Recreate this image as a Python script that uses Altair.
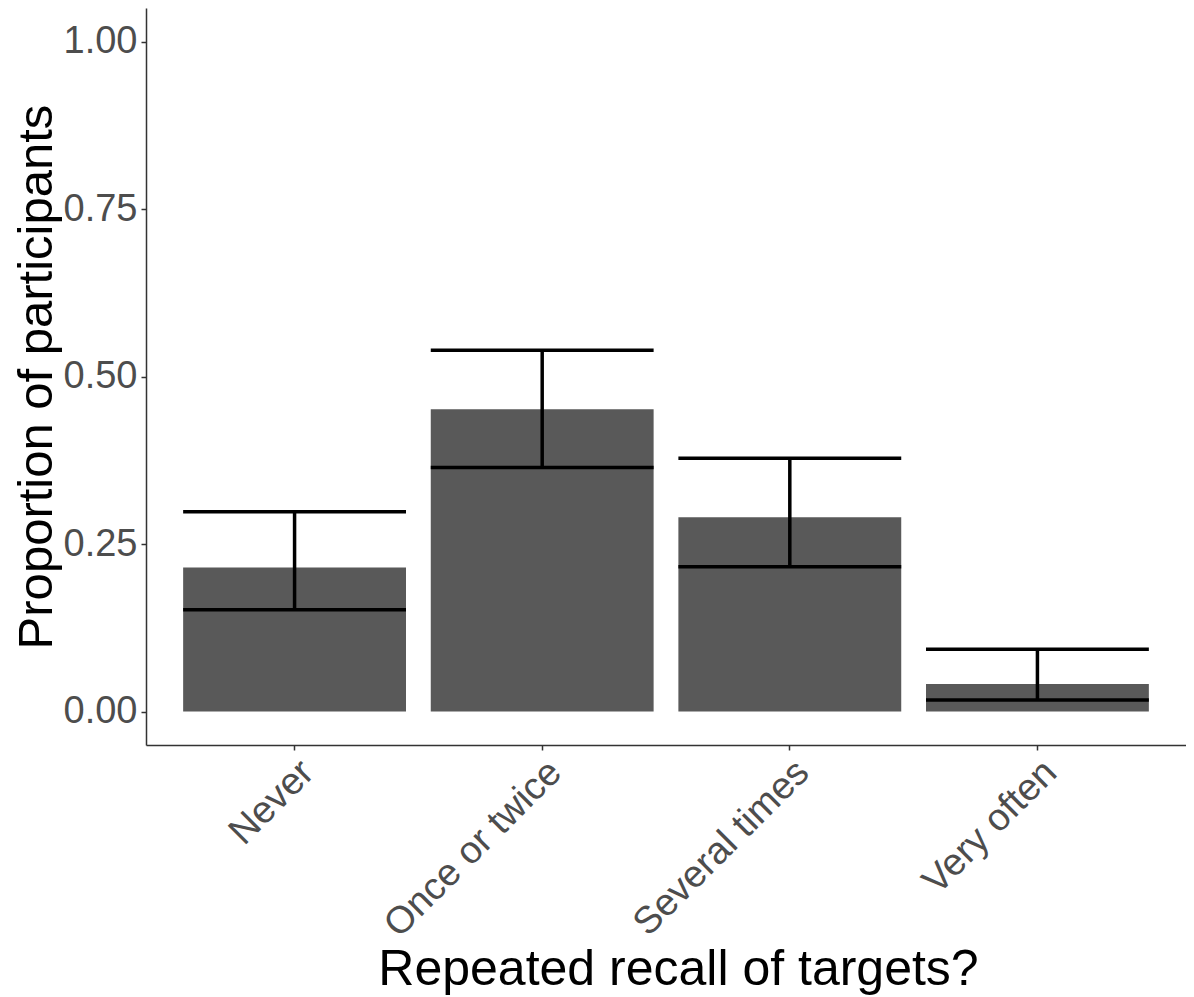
import altair as alt
import pandas as pd

categories = ["Never", "Once or twice", "Several times", "Very often"]
proportions = [0.215, 0.451, 0.290, 0.041]
lower = [0.152, 0.364, 0.216, 0.017]
upper = [0.298, 0.539, 0.378, 0.093]

df = pd.DataFrame({"cat": categories, "p": proportions, "lo": lower, "hi": upper})

FONT = "Liberation Sans"
W = 1040
H = 737
BAR_PX = W / 4.2 * 0.9

xenc = alt.X(
    "cat:N",
    sort=categories,
    title="Repeated recall of targets?",
    scale=alt.Scale(paddingInner=0.1, paddingOuter=0.15),
    axis=alt.Axis(
        labelAngle=-45, labelAlign="right", labelBaseline="top", labelLimit=0,
        labelFontSize=38, labelColor="#4D4D4D", labelFont=FONT,
        titleFontSize=50, titleColor="black", titleFont=FONT, titleFontWeight="normal",
        titleX=W / 2 + 12,
        domainColor="#333333", domainWidth=1.5, tickColor="#333333", tickWidth=1.5,
        tickSize=5, labelPadding=3, titlePadding=0,
    ),
)
yscale = alt.Scale(domain=[-0.05, 1.05], nice=False, zero=False)
yaxis = alt.Axis(
    values=[0, 0.25, 0.5, 0.75, 1.0], format=".2f", grid=False,
    labelFontSize=38, labelColor="#4D4D4D", labelFont=FONT,
    titleFontSize=49, titleColor="black", titleFont=FONT, titleFontWeight="normal",
    domainColor="#333333", domainWidth=1.5, tickColor="#333333", tickWidth=1.5,
    tickSize=5, labelPadding=4, titlePadding=2,
)

bars = alt.Chart(df).mark_bar(color="#595959").encode(
    x=xenc,
    y=alt.Y("p:Q", title="Proportion of participants", scale=yscale, axis=yaxis),
    y2=alt.datum(0),
)
ticks_hi = alt.Chart(df).mark_tick(color="black", opacity=1, thickness=3.5, size=BAR_PX).encode(
    x=alt.X("cat:N", sort=categories), y=alt.Y("hi:Q"),
)
ticks_lo = alt.Chart(df).mark_tick(color="black", opacity=1, thickness=3.5, size=BAR_PX).encode(
    x=alt.X("cat:N", sort=categories), y=alt.Y("lo:Q"),
)
stem = alt.Chart(df).mark_rule(color="black", strokeWidth=3.5).encode(
    x=alt.X("cat:N", sort=categories), y=alt.Y("lo:Q"), y2="hi:Q",
)

chart = (bars + ticks_hi + ticks_lo + stem).properties(
    width=W, height=H,
    background="white",
    autosize=alt.AutoSizeParams(type="none"),
    padding={"left": 138, "top": 0, "right": 0, "bottom": 250},
).configure_view(stroke=None)

chart.save("out.html", embed_options={"renderer": "svg", "actions": False})
